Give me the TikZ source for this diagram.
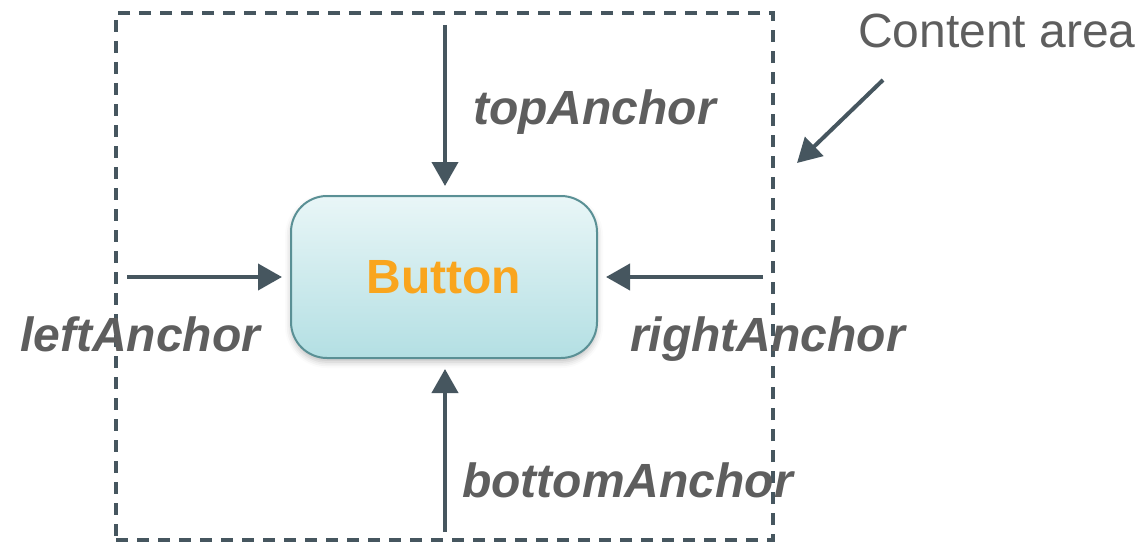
\documentclass[tikz,border=0pt]{standalone}
\usepackage{fontspec}
\setmainfont{Liberation Sans}
\usetikzlibrary{arrows.meta,shadows.blur}
\definecolor{slate}{HTML}{46565F}
\definecolor{labelgray}{HTML}{5E5E5E}
\definecolor{btnorange}{HTML}{F9A51E}
\definecolor{btntop}{HTML}{E9F6F7}
\definecolor{btnbottom}{HTML}{B3DFE3}
\definecolor{btnedge}{HTML}{5A9095}
\tikzset{
  areabox/.style={draw=slate, line width=4.5pt, dash pattern=on 12pt off 9pt,
    minimum width=657pt, minimum height=527pt, inner sep=0pt},
  btnbox/.style={draw=btnedge, line width=2pt, rounded corners=36pt,
    top color=btntop, bottom color=btnbottom,
    minimum width=306pt, minimum height=162pt, inner sep=0pt,
    blur shadow={shadow xshift=0pt, shadow yshift=-4pt, shadow blur radius=6pt, shadow opacity=25},
    font=\fontsize{48}{50}\selectfont\bfseries, text=btnorange},
  anchorlabel/.style={inner sep=0pt, anchor=base west, text=labelgray,
    font=\fontsize{48}{50}\selectfont\bfseries\itshape},
  arealabel/.style={inner sep=0pt, anchor=base west, text=labelgray,
    font=\fontsize{48}{50}\selectfont},
  pointer/.style={draw=slate, line width=4pt,
    -{Triangle[width=26pt,length=24pt]}}
}
\begin{document}
\begin{tikzpicture}[x=1pt,y=-1pt]
  \useasboundingbox (0,0) rectangle (1142,543);
  % content area frame
  \node[areabox] (area) at (444.5,276.5) {};
  % the button
  \node[btnbox] (btn) at (444,277) {\raisebox{-1pt}{Button}};
  % free ends of the anchor arrows
  \coordinate (tstart) at (445,25);
  \coordinate (bstart) at (445,532);
  \coordinate (lstart) at (127,277);
  \coordinate (rstart) at (763,277);
  \coordinate (cstart) at (883,80);
  \coordinate (cend) at (797,163);
  \draw[pointer, shorten >=9pt] (tstart) -- (btn.north -| tstart);
  \draw[pointer, shorten >=10pt] (bstart) -- (btn.south -| bstart);
  \draw[pointer, shorten >=8pt] (lstart) -- (btn.west);
  \draw[pointer, shorten >=8pt] (rstart) -- (btn.east);
  \draw[pointer] (cstart) -- (cend);
  % labels
  \node[anchorlabel] (ltop) at (473,124) {topAnchor};
  \node[anchorlabel] (lleft) at (20,351) {leftAnchor};
  \node[anchorlabel] (lright) at (630,351) {rightAnchor};
  \node[anchorlabel] (lbottom) at (462,497) {bottomAnchor};
  \node[arealabel] (larea) at (858,48) {Content area};
\end{tikzpicture}
\end{document}
